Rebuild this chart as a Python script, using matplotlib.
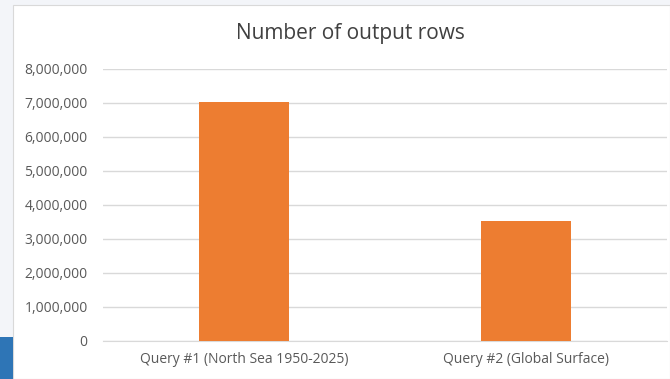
import matplotlib.pyplot as plt
from matplotlib.patches import Rectangle
from matplotlib.ticker import FuncFormatter

# data
categories = ["Query #1 (North Sea 1950-2025)", "Query #2 (Global Surface)"]
row_counts = [7020000, 3530000]
y_ticks = [0, 1000000, 2000000, 3000000, 4000000, 5000000, 6000000, 7000000, 8000000]

W, H = 670, 379
fig = plt.figure(figsize=(W / 100, H / 100), dpi=100)
fig.patch.set_facecolor("#f3f5f9")

# white chart area + blue strip from the screenshot
fig.patches.append(Rectangle((13 / W, 0), 1 - 13 / W, 1 - 5 / H, transform=fig.transFigure,
                             facecolor="white", edgecolor="#d9d9d9", linewidth=0.8, zorder=-2))
fig.patches.append(Rectangle((0, 0), 13 / W, 42 / H, transform=fig.transFigure,
                             facecolor="#2e75b6", edgecolor="none", zorder=-2))

ax = fig.add_axes([103 / W, 1 - 341 / H, (667 - 103) / W, (341 - 69) / H])
ax.set_zorder(2)
ax.patch.set_alpha(0)

x = range(len(categories))
ax.bar(x, row_counts, width=0.316, color="#ed7d31", zorder=3)
ax.set_xlim(-0.5, 1.5)
ax.set_ylim(0, 8000000)
ax.set_yticks(y_ticks)
ax.yaxis.set_major_formatter(FuncFormatter(lambda v, p: f"{int(v):,}"))
ax.set_xticks(list(x))
ax.set_xticklabels(categories)
ax.grid(axis="y", color="#d9d9d9", linewidth=1, zorder=0)
ax.set_axisbelow(True)
for s in ["top", "right", "left"]:
    ax.spines[s].set_visible(False)
ax.spines["bottom"].set_color("#d9d9d9")
ax.tick_params(axis="both", length=0, labelsize=10, labelcolor="#595959")
ax.tick_params(axis="y", pad=11)
ax.tick_params(axis="x", pad=8)
for lab in ax.get_xticklabels() + ax.get_yticklabels():
    lab.set_fontfamily("Open Sans")

fig.text(350 / W, 1 - 33 / H, "Number of output rows", ha="center", va="center",
         fontsize=15, color="#404040", fontfamily="Open Sans")

fig.savefig("out.png", dpi=100)
